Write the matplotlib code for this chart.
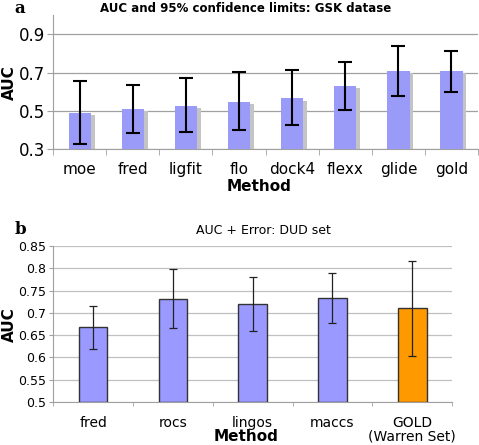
import numpy as np
import matplotlib
matplotlib.use('Agg')
import matplotlib.pyplot as plt

# panel a: GSK dataset
gsk_methods = ['moe', 'fred', 'ligfit', 'flo', 'dock4', 'flexx', 'glide', 'gold']
gsk_auc = [0.491, 0.510, 0.527, 0.545, 0.565, 0.630, 0.710, 0.710]
gsk_low = [0.325, 0.383, 0.390, 0.400, 0.428, 0.505, 0.578, 0.600]
gsk_high = [0.655, 0.637, 0.670, 0.705, 0.713, 0.755, 0.840, 0.815]

# panel b: DUD set
dud_methods = ['fred', 'rocs', 'lingos', 'maccs', 'GOLD\n(Warren Set)']
dud_auc = [0.668, 0.731, 0.720, 0.733, 0.710]
dud_low = [0.618, 0.666, 0.660, 0.678, 0.603]
dud_high = [0.715, 0.799, 0.780, 0.790, 0.817]
dud_colors = ['#9999ff', '#9999ff', '#9999ff', '#9999ff', '#ff9900']

fig = plt.figure(figsize=(4.79, 4.45), dpi=100)
grid_col = '#a0a0a0'

# ---- top panel
ax1 = fig.add_axes([0.111, 0.665, 0.887, 0.301])
x = np.arange(len(gsk_methods))
auc = np.array(gsk_auc)
# shadow bars
ax1.bar(x + 0.07, auc - 0.3 - 0.012, bottom=0.3, width=0.42, color='#c4c4c4', zorder=2)
ax1.bar(x, auc - 0.3, bottom=0.3, width=0.42, color='#9a9af8', zorder=3)
yerr = [auc - np.array(gsk_low), np.array(gsk_high) - auc]
ax1.errorbar(x, auc, yerr=yerr, fmt='none', ecolor='black', elinewidth=1.5,
             capsize=5, capthick=1.5, zorder=4)
ax1.set_xlim(-0.5, len(gsk_methods) - 0.5)
ax1.set_ylim(0.3, 1.0)
ax1.set_yticks([0.3, 0.5, 0.7, 0.9])
ax1.set_yticklabels(['0.3', '0.5', '0.7', '0.9'], fontsize=12)
ax1.set_xticks(x)
ax1.set_xticklabels(gsk_methods, fontsize=11)
ax1.set_xticks(np.arange(-0.5, len(gsk_methods)), minor=True)
ax1.tick_params(axis='x', which='major', length=0, pad=9)
ax1.tick_params(axis='x', which='minor', length=4, color=grid_col)
ax1.tick_params(axis='y', length=4, color=grid_col, pad=2)
ax1.yaxis.grid(True, color=grid_col, lw=0.9, zorder=0)
ax1.set_axisbelow(True)
for s in ['top', 'right']:
    ax1.spines[s].set_visible(False)
for s in ['left', 'bottom']:
    ax1.spines[s].set_color(grid_col)
fig.text(0.019, 0.815, 'AUC', rotation=90, ha='center', va='center',
         fontsize=11, fontweight='bold')
fig.text(0.54, 0.580, 'Method', ha='center', va='center', fontsize=11, fontweight='bold')
fig.text(0.512, 0.982, 'AUC and 95% confidence limits: GSK datase', ha='center', va='center',
         fontsize=8.5, fontweight='bold')
fig.text(0.042, 0.982, 'a', ha='center', va='center', fontsize=12, fontweight='bold', family='serif')

# ---- bottom panel
ax2 = fig.add_axes([0.111, 0.097, 0.833, 0.350])
x2 = np.arange(len(dud_methods))
auc2 = np.array(dud_auc)
ax2.bar(x2, auc2 - 0.5, bottom=0.5, width=0.36, color=dud_colors,
        edgecolor='#333333', linewidth=1.0, zorder=3)
yerr2 = [auc2 - np.array(dud_low), np.array(dud_high) - auc2]
ax2.errorbar(x2, auc2, yerr=yerr2, fmt='none', ecolor='#222222', elinewidth=0.9,
             capsize=3, capthick=0.9, zorder=4)
ax2.set_xlim(-0.5, len(dud_methods) - 0.5)
ax2.set_ylim(0.5, 0.85)
yt = [0.5, 0.55, 0.6, 0.65, 0.7, 0.75, 0.8, 0.85]
ax2.set_yticks(yt)
ax2.set_yticklabels(['0.5', '0.55', '0.6', '0.65', '0.7', '0.75', '0.8', '0.85'], fontsize=9)
ax2.set_xticks(x2)
ax2.set_xticklabels(dud_methods, fontsize=10, linespacing=1.0, va='top')
ax2.set_xticks(np.arange(-0.5, len(dud_methods)), minor=True)
ax2.tick_params(axis='x', which='major', length=0, pad=10)
ax2.tick_params(axis='x', which='minor', length=3, color=grid_col)
ax2.tick_params(axis='y', length=3, color=grid_col, pad=2)
ax2.yaxis.grid(True, color='#c0c0c0', lw=0.9, zorder=0)
ax2.set_axisbelow(True)
for s in ['top', 'right']:
    ax2.spines[s].set_visible(False)
for s in ['left', 'bottom']:
    ax2.spines[s].set_color(grid_col)
fig.text(0.019, 0.27, 'AUC', rotation=90, ha='center', va='center',
         fontsize=11, fontweight='bold')
fig.text(0.513, 0.018, 'Method', ha='center', va='center', fontsize=11, fontweight='bold')
fig.text(0.55, 0.483, 'AUC + Error: DUD set', ha='center', va='center', fontsize=9)
fig.text(0.042, 0.485, 'b', ha='center', va='center', fontsize=12, fontweight='bold', family='serif')

fig.savefig('out.png', dpi=100)
